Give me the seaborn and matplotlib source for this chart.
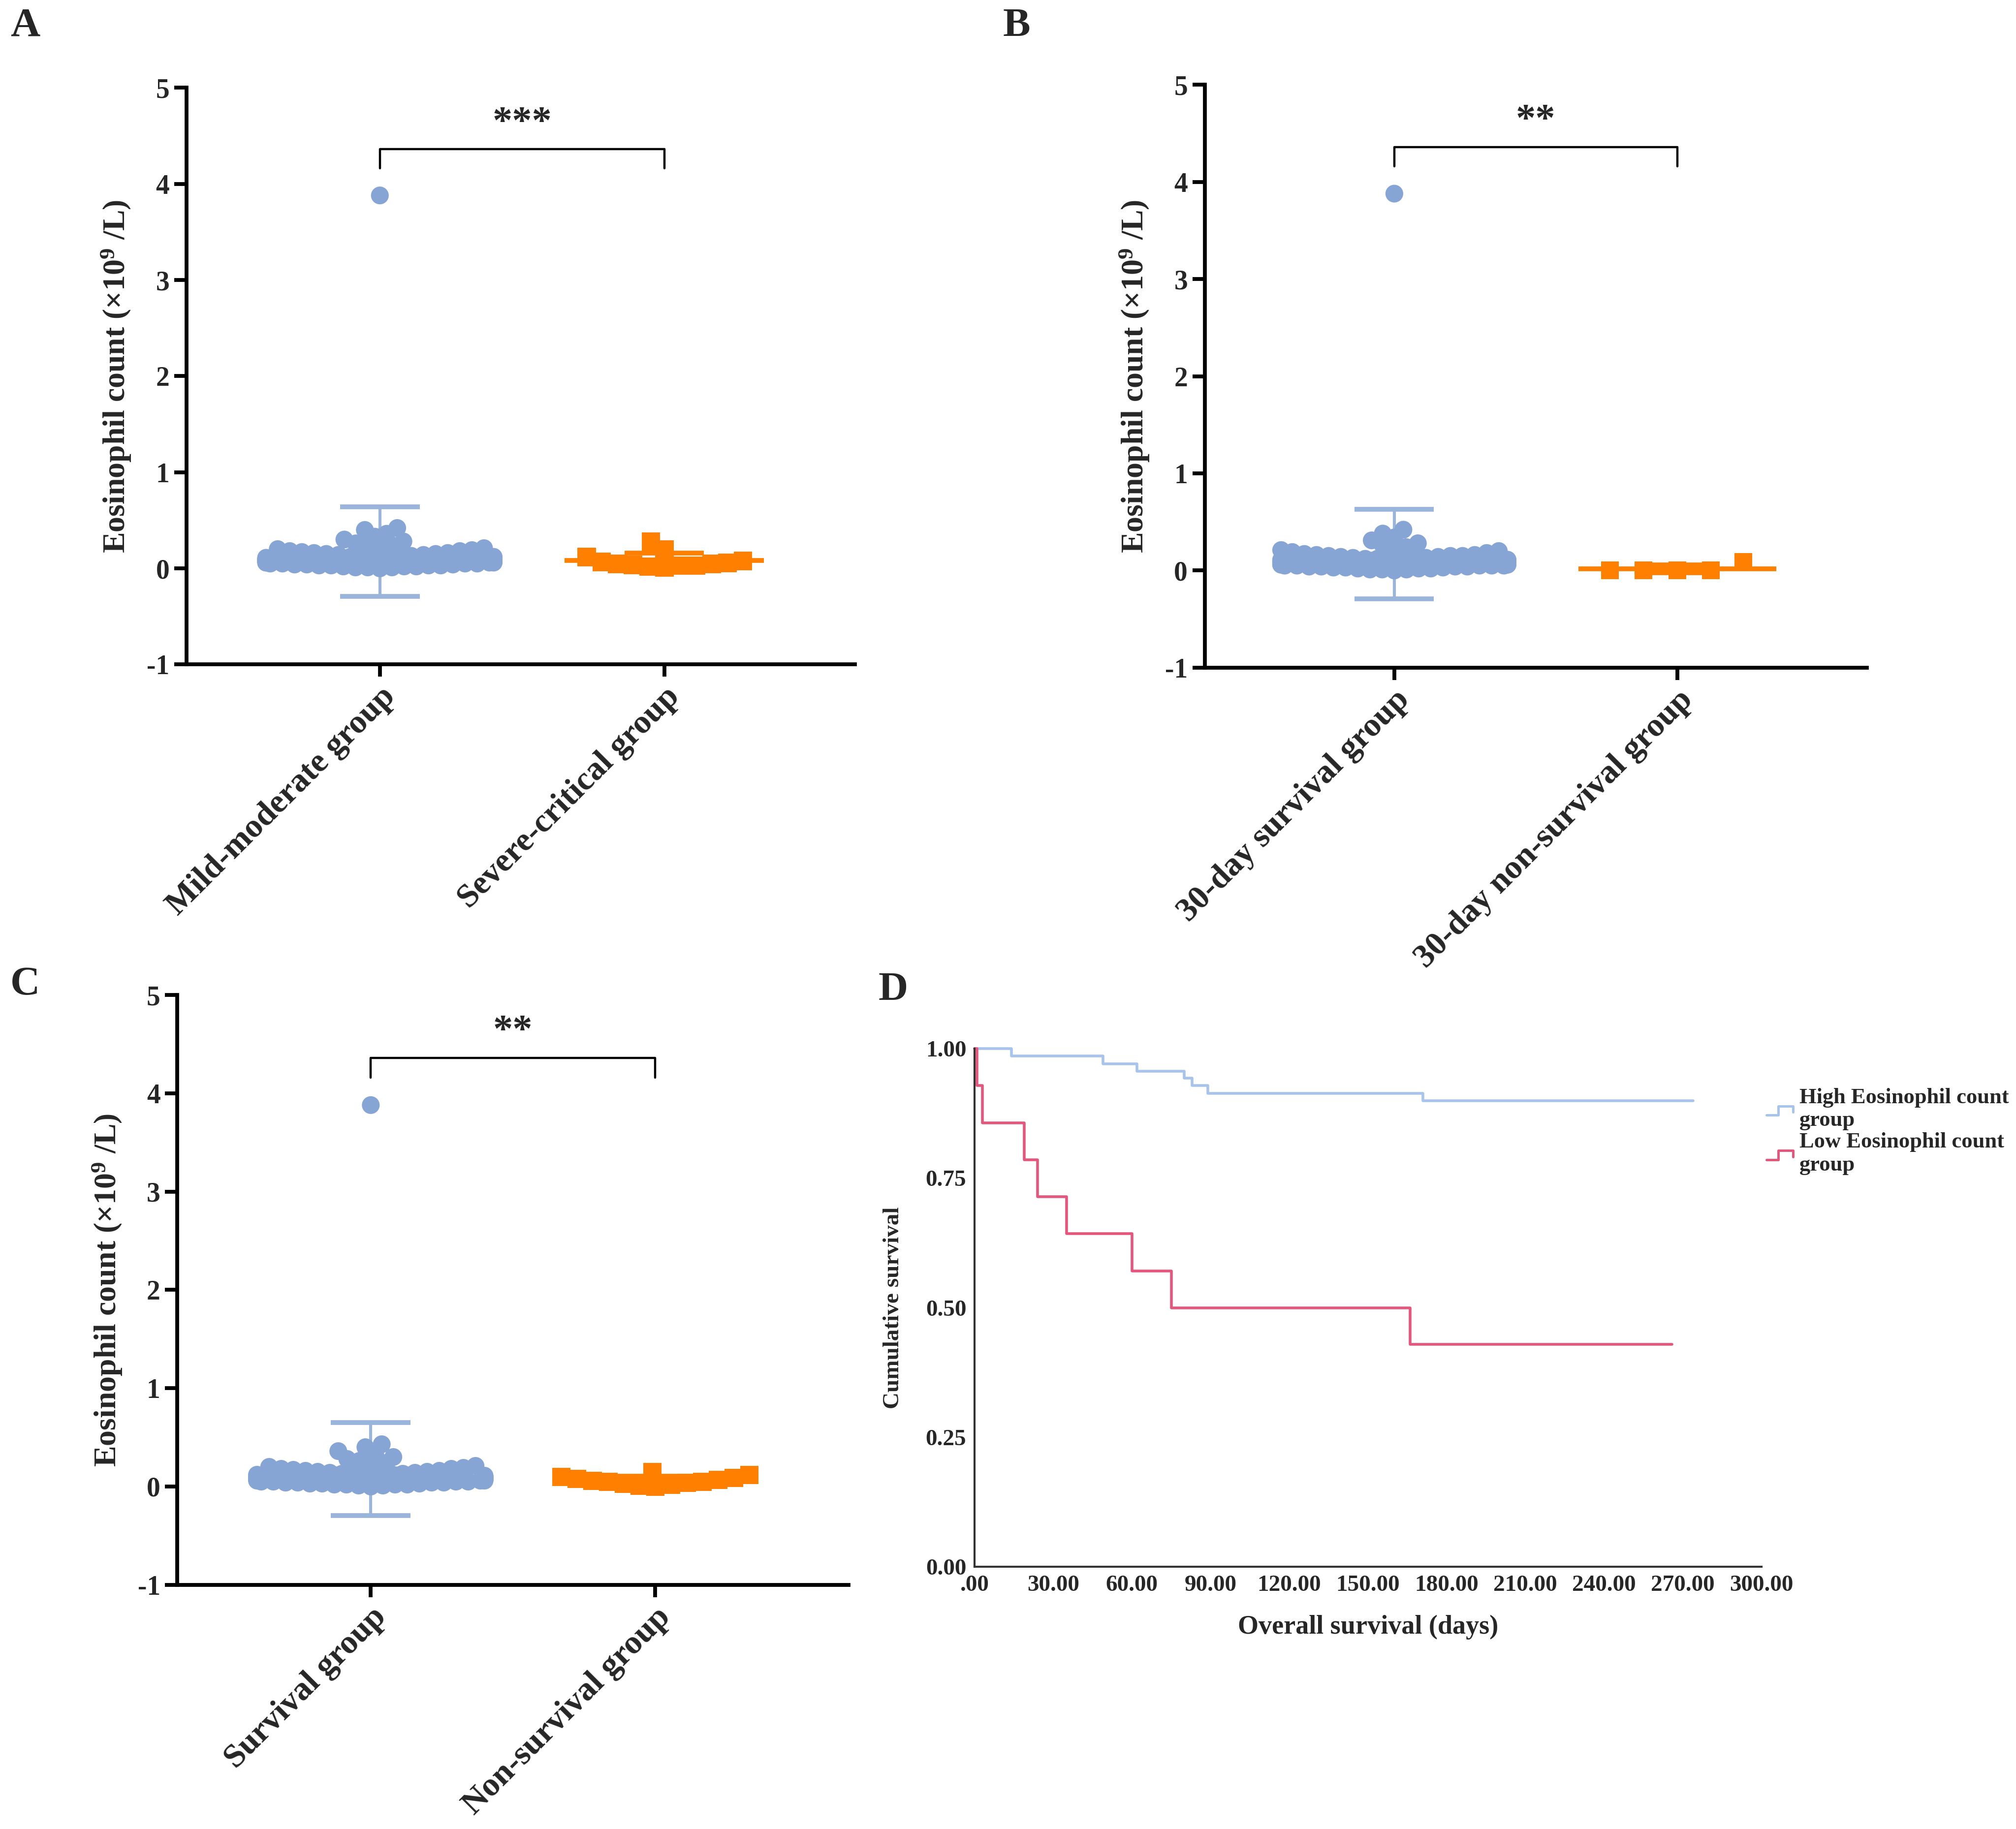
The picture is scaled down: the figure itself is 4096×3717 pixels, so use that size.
import pandas as pd
import matplotlib.pyplot as plt
import matplotlib.patheffects as pe
from matplotlib.legend_handler import HandlerBase
from matplotlib.lines import Line2D
import seaborn as sns

# ---------------- data ----------------
groups_a = ["Mild-moderate group", "Severe-critical group"]
groups_b = ["30-day survival group", "30-day non-survival group"]
groups_c = ["Survival group", "Non-survival group"]

blue_a = [0.00, 0.01, 0.01, 0.02, 0.02, 0.02, 0.03, 0.03, 0.03, 0.04, 0.04, 0.04,
          0.05, 0.05, 0.05, 0.05, 0.06, 0.06, 0.06, 0.07, 0.07, 0.07, 0.07, 0.08,
          0.08, 0.08, 0.09, 0.09, 0.09, 0.10, 0.10, 0.10, 0.11, 0.11, 0.11, 0.12,
          0.12, 0.12, 0.13, 0.13, 0.14, 0.14, 0.15, 0.15, 0.16, 0.16, 0.17, 0.18,
          0.18, 0.19, 0.20, 0.21, 0.22, 0.23, 0.24, 0.26, 0.28, 0.30, 0.33, 0.36,
          0.40, 0.42, 0.01, 0.03, 0.06, 0.09, 0.12, 3.88]
orange_a = [0.28, 0.12, 0.05, 0.08, 0.03, 0.06, 0.02, 0.04, 0.07, 0.20, 0.03, 0.05, 0.01]

blue_b = [0.00, 0.01, 0.01, 0.02, 0.02, 0.03, 0.03, 0.03, 0.04, 0.04, 0.04, 0.05,
          0.05, 0.05, 0.05, 0.06, 0.06, 0.06, 0.07, 0.07, 0.07, 0.08, 0.08, 0.08,
          0.09, 0.09, 0.09, 0.10, 0.10, 0.10, 0.11, 0.11, 0.11, 0.12, 0.12, 0.12,
          0.13, 0.13, 0.14, 0.14, 0.15, 0.15, 0.16, 0.16, 0.17, 0.18, 0.19, 0.20,
          0.21, 0.22, 0.24, 0.26, 0.28, 0.31, 0.34, 0.38, 0.42, 0.02, 0.04, 0.06,
          0.08, 0.10, 0.13, 0.01, 0.05, 0.09, 0.11, 0.15, 3.88]
orange_b = [0.00, 0.09, 0.00, 0.00, 0.00]

blue_c = [0.00, 0.01, 0.01, 0.02, 0.02, 0.02, 0.03, 0.03, 0.03, 0.04, 0.04, 0.04,
          0.05, 0.05, 0.05, 0.05, 0.06, 0.06, 0.06, 0.07, 0.07, 0.07, 0.08, 0.08,
          0.08, 0.09, 0.09, 0.09, 0.10, 0.10, 0.10, 0.11, 0.11, 0.11, 0.12, 0.12,
          0.12, 0.13, 0.13, 0.14, 0.14, 0.15, 0.15, 0.16, 0.16, 0.17, 0.18, 0.18,
          0.19, 0.20, 0.21, 0.22, 0.24, 0.26, 0.28, 0.30, 0.33, 0.36, 0.40, 0.43,
          0.02, 0.04, 0.07, 0.10, 0.13, 3.88]
orange_c = [0.15, 0.12, 0.05, 0.10, 0.03, 0.08, 0.02, 0.06, 0.00, 0.01, 0.04, 0.07, 0.09, 0.05]

stars = ["***", "**", "**"]

# Kaplan-Meier curves (panel D)
km_high_days = [0, 14, 49, 62, 80, 83, 89, 171, 274]
km_high_surv = [1.0, 0.986, 0.971, 0.957, 0.943, 0.929, 0.914, 0.900, 0.900]
km_low_days = [0, 1, 3, 19, 24, 35, 60, 75, 166, 266]
km_low_surv = [1.0, 0.929, 0.857, 0.786, 0.714, 0.643, 0.571, 0.500, 0.429, 0.429]
km_labels = ["High Eosinophil count\ngroup", "Low Eosinophil count\ngroup"]
km_xticks = [0, 30, 60, 90, 120, 150, 180, 210, 240, 270, 300]
km_yticks = [0.0, 0.25, 0.5, 0.75, 1.0]

# ---------------- style ----------------
BLUE = "#87A5D4"
BLUE_BAR = "#9AB4DC"
ORANGE = "#FF7F00"
KM_BLUE = "#A8C3EC"
KM_RED = "#E3577C"

sns.set_theme(style="ticks")
plt.rcParams["font.family"] = ["Liberation Serif", "DejaVu Serif"]
plt.rcParams["font.weight"] = "bold"
plt.rcParams["axes.labelweight"] = "bold"
plt.rcParams["axes.unicode_minus"] = False
plt.rcParams["mathtext.fontset"] = "custom"
plt.rcParams["mathtext.rm"] = "Liberation Serif:bold"
plt.rcParams["mathtext.it"] = "Liberation Serif:bold"
plt.rcParams["mathtext.default"] = "rm"

fig = plt.figure(figsize=(20.48, 18.585), dpi=200)

# swarm laid out with small dots, then fattened (stroke) so dots overlap like GraphPad
blue_kws = dict(marker="o", size=8.5, linewidth=0,
                path_effects=[pe.Stroke(linewidth=4.5, foreground=BLUE), pe.Normal()])
orange_solid = dict(marker="s", size=11, linewidth=0,
                    path_effects=[pe.Stroke(linewidth=2.5, foreground=ORANGE,
                                            joinstyle="miter"), pe.Normal()])
# invisible wide edge only spreads the squares apart
orange_spread = dict(marker="s", size=13, linewidth=10.5, edgecolor="none")


def scatter_panel(rect, names, blue, orange, star, xlim, orange_kws):
    ax = fig.add_axes(rect)
    df = pd.DataFrame({
        "group": [names[0]] * len(blue) + [names[1]] * len(orange),
        "value": blue + orange,
    })
    # error bars (mean +/- SD) behind the points
    stats = df.groupby("group", sort=False)["value"].agg(["mean", "std"])
    for i, (g, col) in enumerate(zip(names, [BLUE_BAR, ORANGE])):
        m, sd = stats.loc[g, "mean"], stats.loc[g, "std"]
        ax.vlines(i, m - sd, m + sd, color=col, lw=2.2, zorder=1)
        ax.hlines([m - sd, m + sd], i - 0.14, i + 0.14, color=col, lw=3.5, zorder=1)
        ax.hlines(m, i - 0.35, i + 0.35, color=col, lw=3.5, zorder=1)
    sns.swarmplot(data=df[df["group"] == names[0]], x="group", y="value",
                  order=names, color=BLUE, ax=ax, zorder=3, warn_thresh=1.0, **blue_kws)
    sns.swarmplot(data=df[df["group"] == names[1]], x="group", y="value",
                  order=names, color=ORANGE, ax=ax, zorder=3, warn_thresh=1.0, **orange_kws)
    # significance bracket
    ax.plot([0, 0, 1, 1], [4.16, 4.36, 4.36, 4.16], color="black", lw=1.6, clip_on=False)
    ax.text(0.5, 4.44, star, ha="center", va="bottom", fontsize=29, fontweight="bold")

    ax.set_xlim(*xlim)
    ax.set_ylim(-1, 5)
    ax.set_yticks([-1, 0, 1, 2, 3, 4, 5])
    ax.set_xlabel("")
    ax.set_ylabel("Eosinophil count (×10$^{9}$ /L)", fontsize=23, fontweight="bold", labelpad=10)
    ax.tick_params(axis="both", width=2.8, length=9, labelsize=20, color="black")
    for lab in ax.get_yticklabels():
        lab.set_fontweight("bold")
    ax.set_xticks([0, 1])
    ax.set_xticklabels(names, rotation=45, ha="right", rotation_mode="anchor",
                       fontsize=24.5, fontweight="bold")
    sns.despine(ax=ax)
    for sp in ["left", "bottom"]:
        ax.spines[sp].set_linewidth(2.8)
        ax.spines[sp].set_color("black")
    return ax


scatter_panel([0.0925, 0.6367, 0.3315, 0.3153], groups_a, blue_a, orange_a, stars[0],
              (-0.68, 1.67), orange_solid)
scatter_panel([0.5976, 0.6350, 0.3284, 0.3186], groups_b, blue_b, orange_b, stars[1],
              (-0.67, 1.67), orange_spread)
scatter_panel([0.0880, 0.1335, 0.3329, 0.3225], groups_c, blue_c, orange_c, stars[2],
              (-0.68, 1.68), orange_solid)


# ---------------- panel D ----------------
class StepHandler(HandlerBase):
    # SPSS-style little step icon for the legend
    def create_artists(self, legend, orig_handle, xdescent, ydescent, width, height,
                       fontsize, trans):
        xs = [-xdescent, -xdescent + 0.45 * width, -xdescent + 0.45 * width,
              -xdescent + width, -xdescent + width]
        ys = [-ydescent + 0.1 * height, -ydescent + 0.1 * height, -ydescent + 0.7 * height,
              -ydescent + 0.7 * height, -ydescent + 0.3 * height]
        ln = Line2D(xs, ys, color=orig_handle.get_color(), lw=1.8, transform=trans)
        return [ln]


axd = fig.add_axes([0.4834, 0.1434, 0.3903, 0.2832])
sns.lineplot(x=km_high_days, y=km_high_surv, drawstyle="steps-post", color=KM_BLUE,
             lw=2.0, ax=axd, label=km_labels[0], clip_on=False)
sns.lineplot(x=km_low_days, y=km_low_surv, drawstyle="steps-post", color=KM_RED,
             lw=2.0, ax=axd, label=km_labels[1], clip_on=False)
axd.set_xlim(0, 300)
axd.set_ylim(0, 1.0)
axd.set_xticks(km_xticks)
axd.set_xticklabels(["{:.2f}".format(v).lstrip("0") for v in km_xticks],
                    fontsize=17, fontweight="bold")
axd.set_yticks(km_yticks)
axd.set_yticklabels(["{:.2f}".format(v) for v in km_yticks], fontsize=17, fontweight="bold")
axd.tick_params(axis="both", length=0, pad=6)
axd.set_xlabel("Overall survival (days)", fontsize=19.5, fontweight="bold", labelpad=14)
axd.set_ylabel("Cumulative survival", fontsize=17, fontweight="bold", labelpad=16)
sns.despine(ax=axd)
for sp in ["left", "bottom"]:
    axd.spines[sp].set_linewidth(1.5)
    axd.spines[sp].set_color("#333333")
handles, labels = axd.get_legend_handles_labels()
axd.legend(handles, labels, handler_map={Line2D: StepHandler()},
           loc="upper left", bbox_to_anchor=(0.872, 0.41), bbox_transform=fig.transFigure,
           frameon=False, fontsize=16, handlelength=1.2, handletextpad=0.3,
           labelspacing=0.1, borderaxespad=0)

# ---------------- panel letters ----------------
for letter, x, y in [("A", 8, 6), ("B", 780, 6), ("C", 8, 752), ("D", 683, 756)]:
    fig.text(x / 1568, 1 - y / 1423, letter, ha="left", va="top",
             fontsize=30, fontweight="bold")

fig.savefig("out.png", dpi=200, facecolor="white")
